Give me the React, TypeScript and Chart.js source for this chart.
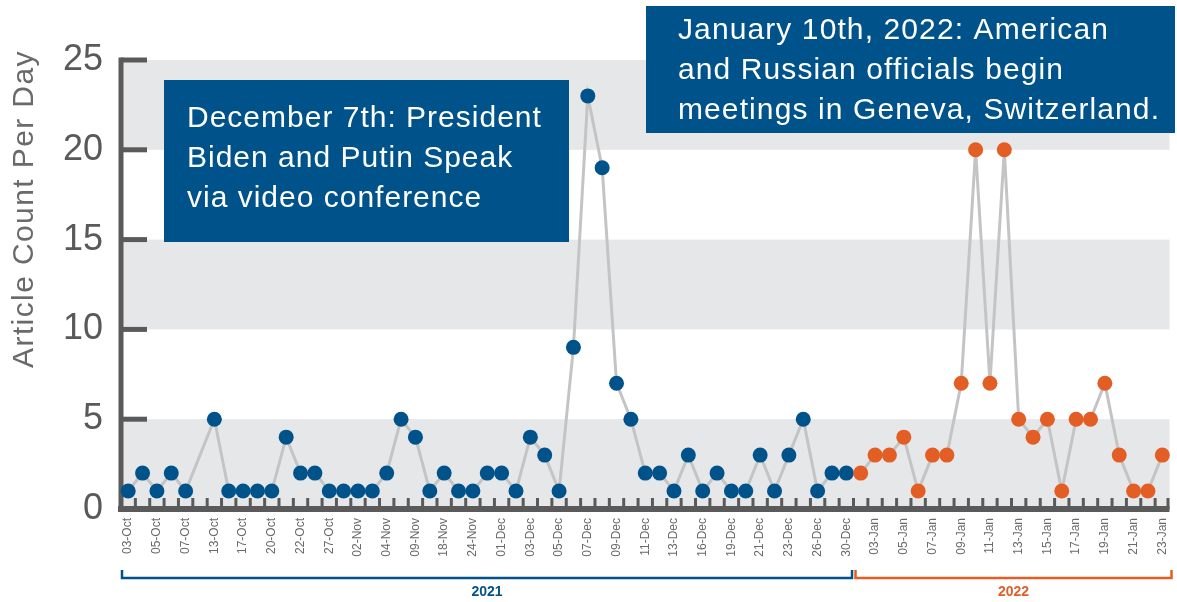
import React, { useEffect, useRef } from "react";
import { Chart, registerables } from "chart.js";

Chart.register(...registerables);

// ---- Data ----
const dates2021 = [
  "03-Oct", "04-Oct", "05-Oct", "06-Oct", "07-Oct", "10-Oct", "13-Oct", "15-Oct", "17-Oct", "19-Oct",
  "20-Oct", "21-Oct", "22-Oct", "25-Oct", "27-Oct", "29-Oct", "02-Nov", "03-Nov", "04-Nov", "08-Nov",
  "09-Nov", "16-Nov", "18-Nov", "22-Nov", "24-Nov", "30-Nov", "01-Dec", "02-Dec", "03-Dec", "04-Dec",
  "05-Dec", "06-Dec", "07-Dec", "08-Dec", "09-Dec", "10-Dec", "11-Dec", "12-Dec", "13-Dec", "15-Dec",
  "16-Dec", "18-Dec", "19-Dec", "20-Dec", "21-Dec", "22-Dec", "23-Dec", "24-Dec", "26-Dec", "28-Dec",
  "30-Dec",
];
const counts2021: (number | null)[] = [
  1, 2, 1, 2, 1, null, 5, 1, 1, 1,
  1, 4, 2, 2, 1, 1, 1, 1, 2, 5,
  4, 1, 2, 1, 1, 2, 2, 1, 4, 3,
  1, 9, 23, 19, 7, 5, 2, 2, 1, 3,
  1, 2, 1, 1, 3, 1, 3, 5, 1, 2,
  2,
];
const dates2022 = [
  "02-Jan", "03-Jan", "04-Jan", "05-Jan", "06-Jan", "07-Jan", "08-Jan", "09-Jan", "10-Jan", "11-Jan",
  "12-Jan", "13-Jan", "14-Jan", "15-Jan", "16-Jan", "17-Jan", "18-Jan", "19-Jan", "20-Jan", "21-Jan",
  "22-Jan", "23-Jan",
];
const counts2022 = [2, 3, 3, 4, 1, 3, 3, 7, 20, 7, 20, 5, 4, 5, 1, 5, 5, 7, 3, 1, 1, 3];

const yTicks = [0, 5, 10, 15, 20, 25];
const bandStarts = [0, 10, 20];
const yearLabels = ["2021", "2022"];
const yTitle = "Article Count Per Day";
const note1 = ["December 7th: President", "Biden and Putin Speak", "via video conference"];
const note2 = ["January 10th, 2022: American", "and Russian officials begin", "meetings in Geneva, Switzerland."];

// ---- Styles ----
const BLUE = "#00538a";
const ORANGE = "#e35e25";
const AXIS = "#5a5a5a";
const BAND = "#e6e7e9";
const LINE = "#c4c4c4";
const FONT = "'Liberation Sans', Arial, sans-serif";

const labels = [...dates2021, ...dates2022];
const values = [...counts2021, ...counts2022];
const pointColors = [...dates2021.map(() => BLUE), ...dates2022.map(() => ORANGE)];

function seg(ctx: CanvasRenderingContext2D, x1: number, y1: number, x2: number, y2: number) {
  ctx.beginPath();
  ctx.moveTo(x1, y1);
  ctx.lineTo(x2, y2);
  ctx.stroke();
}

function spacedText(ctx: any, text: string, x: number, y: number, spacing: number) {
  if ("letterSpacing" in ctx) {
    ctx.letterSpacing = spacing + "px";
    ctx.fillText(text, x, y);
    ctx.letterSpacing = "0px";
  } else {
    ctx.fillText(text, x, y);
  }
}

const decor = {
  id: "decor",
  beforeDatasetsDraw(chart: any) {
    const { ctx, chartArea: a, scales } = chart;
    const x = scales.x;
    const y = scales.y;
    ctx.save();
    // bands
    ctx.fillStyle = BAND;
    for (const v of bandStarts) {
      const t = y.getPixelForValue(v + 5);
      const b = y.getPixelForValue(v);
      ctx.fillRect(a.left, t, a.right - a.left, b - t);
    }
    ctx.strokeStyle = AXIS;
    // comb ticks between categories
    const n = chart.data.labels.length;
    ctx.lineWidth = 3;
    for (let i = 1; i <= n; i++) {
      const bx = i < n ? (x.getPixelForValue(i - 1) + x.getPixelForValue(i)) / 2 : a.right - 1.5;
      seg(ctx, bx, a.bottom - 11, bx, a.bottom);
    }
    // bottom bar
    ctx.lineWidth = 6;
    seg(ctx, a.left - 3, a.bottom, a.right, a.bottom);
    // left axis
    ctx.lineWidth = 5;
    seg(ctx, a.left, y.getPixelForValue(25) - 2.5, a.left, a.bottom + 3);
    for (const v of yTicks) {
      if (v === 0) continue;
      const py = y.getPixelForValue(v);
      seg(ctx, a.left, py, a.left + 26, py);
    }
    ctx.restore();
  },
  afterDatasetsDraw(chart: any) {
    const { ctx, chartArea: a, scales } = chart;
    const x = scales.x;
    ctx.save();
    // annotation boxes
    ctx.fillStyle = BLUE;
    ctx.fillRect(164, 80, 405, 162);
    ctx.fillRect(646, 6, 529, 127);
    ctx.fillStyle = "#ffffff";
    ctx.font = `30px ${FONT}`;
    ctx.textAlign = "left";
    ctx.textBaseline = "alphabetic";
    note1.forEach((t, i) => spacedText(ctx, t, 187, 127 + i * 40, 1));
    note2.forEach((t, i) => spacedText(ctx, t, 678, 39 + i * 40, 1.1));

    // year brackets
    const split = (x.getPixelForValue(dates2021.length - 1) + x.getPixelForValue(dates2021.length)) / 2;
    const brackets = [
      { x1: a.left + 1, x2: split - 1.5, color: BLUE, label: yearLabels[0] },
      { x1: split + 2, x2: a.right + 2, color: ORANGE, label: yearLabels[1] },
    ];
    ctx.lineWidth = 2.5;
    ctx.font = `bold 14px ${FONT}`;
    ctx.textAlign = "center";
    ctx.textBaseline = "middle";
    for (const b of brackets) {
      ctx.strokeStyle = b.color;
      ctx.beginPath();
      ctx.moveTo(b.x1, 570);
      ctx.lineTo(b.x1, 578);
      ctx.lineTo(b.x2, 578);
      ctx.lineTo(b.x2, 570);
      ctx.stroke();
      ctx.fillStyle = b.color;
      ctx.fillText(b.label, (b.x1 + b.x2) / 2, 592);
    }

    // y title
    ctx.translate(33, 209);
    ctx.rotate(-Math.PI / 2);
    ctx.fillStyle = "#6a6a6a";
    ctx.font = `30px ${FONT}`;
    ctx.textAlign = "center";
    ctx.textBaseline = "alphabetic";
    spacedText(ctx, yTitle, 0, 0, 1.4);
    ctx.restore();
  },
};

export default function App() {
  const ref = useRef<HTMLCanvasElement | null>(null);
  useEffect(() => {
    if (!ref.current) return;
    const chart = new Chart(ref.current, {
      type: "line",
      data: {
        labels,
        datasets: [
          {
            data: values,
            borderColor: LINE,
            borderWidth: 3,
            pointRadius: 7.5,
            pointHoverRadius: 7.5,
            pointBorderWidth: 0,
            pointBackgroundColor: pointColors,
            spanGaps: true,
            tension: 0,
          },
        ],
      },
      options: {
        responsive: false,
        animation: false,
        layout: { padding: { top: 60, right: 4, left: 0, bottom: 0 } },
        plugins: { legend: { display: false }, tooltip: { enabled: false } },
        scales: {
          x: {
            type: "category",
            offset: true,
            grid: { display: false, drawTicks: false },
            border: { display: false },
            afterFit: (s: any) => {
              s.height = 93;
              s.paddingLeft = 0;
              s.paddingRight = 0;
            },
            ticks: {
              autoSkip: false,
              maxRotation: 90,
              minRotation: 90,
              padding: 9,
              color: "#6a6a6a",
              font: { family: FONT, size: 12 },
              callback: (_v: any, i: number) => (i % 2 === 0 ? labels[i] : ""),
            },
          },
          y: {
            min: 0,
            max: 25,
            grid: { display: false, drawTicks: false },
            border: { display: false },
            afterFit: (s: any) => {
              s.width = 121;
              s.paddingTop = 0;
              s.paddingBottom = 0;
            },
            ticks: {
              stepSize: 5,
              padding: 18,
              color: "#595959",
              font: { family: FONT, size: 36 },
            },
          },
        },
      },
      plugins: [decor],
    } as any);
    return () => chart.destroy();
  }, []);
  return (
    <div style={{ position: "absolute", left: 0, top: 0, width: 1177, height: 602 }}>
      <canvas ref={ref} width={1177} height={602} style={{ display: "block" }} />
    </div>
  );
}
